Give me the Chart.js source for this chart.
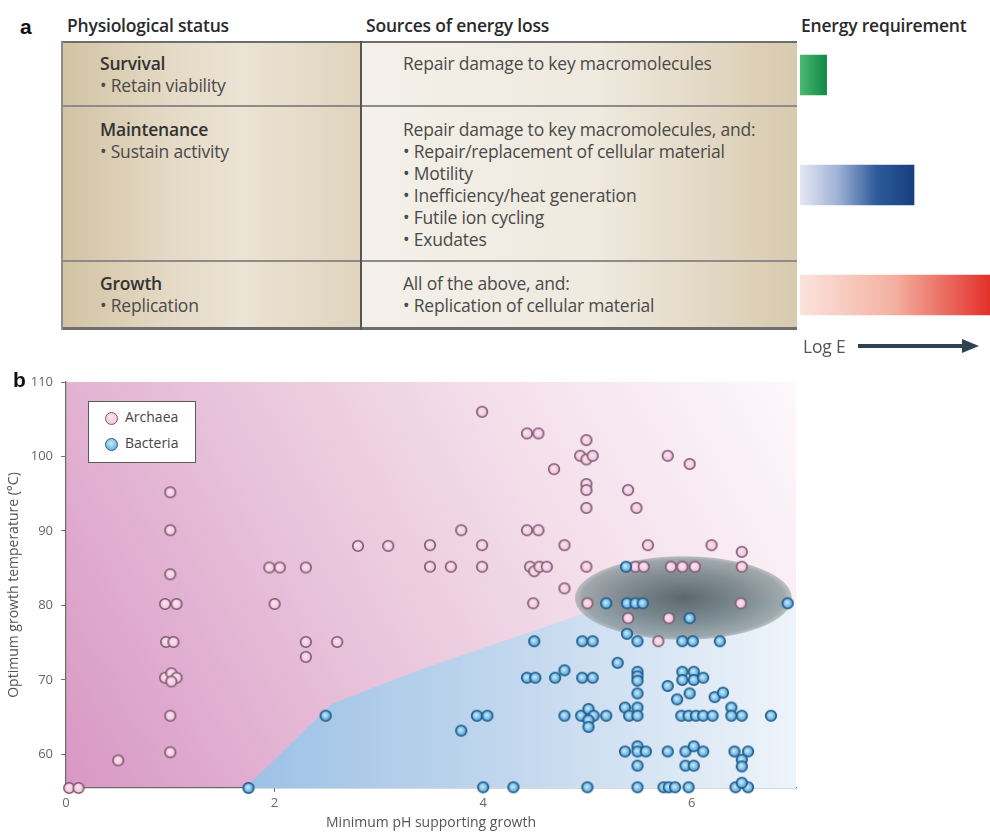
<!DOCTYPE html>
<html>
<head>
<meta charset="utf-8">
<title>Energy requirement and growth limits</title>
<script src="https://cdn.jsdelivr.net/npm/chart.js@4.4.1/dist/chart.umd.min.js"></script>
<style>
  body { margin: 0; background: #fff; font-family: 'Open Sans', sans-serif; }
  #page { position: relative; width: 990px; height: 835px; overflow: hidden; }
  .abs { position: absolute; white-space: nowrap; }
  .panel { font-family: Arial, 'Liberation Sans', sans-serif; font-weight: bold; font-size: 21px; line-height: 20px; color: #111; }
  .head { font-size: 17.5px; font-weight: 600; line-height: 22px; color: #2a2a2a; letter-spacing: -0.2px; }
  .txt { font-size: 17.5px; line-height: 22px; color: #4a4a4a; letter-spacing: -0.2px; }
  .txt b { font-weight: 600; color: #333; }
  .cellL { background: linear-gradient(90deg, #d2c3a3 0%, #e4d9c4 35%, #ebe3d4 60%, #e0d4bc 100%); }
  .cellR { background: linear-gradient(90deg, #f4f1ea 0%, #efe9de 55%, #d8caae 100%); }
  .line { position: absolute; }
  .legend { position: absolute; left: 88px; top: 401px; width: 108px; height: 62px; box-sizing: border-box;
            border: 1.5px solid #5a5a5a; background: #fff; }
  .dot { position: absolute; width: 11px; height: 11px; border-radius: 50%; }
  .ltxt { position: absolute; font-size: 14px; line-height: 20px; color: #444; }
</style>
</head>
<body>
<div id="page">
  <!-- panel a : table -->
  <div class="abs panel" style="left:20px; top:17px;">a</div>
  <div class="abs head" style="left:67px; top:14px;">Physiological status</div>
  <div class="abs head" style="left:366px; top:14px;">Sources of energy loss</div>
  <div class="abs head" style="left:801px; top:14px;">Energy requirement</div>

  <div class="abs cellL" style="left:62px; top:42px; width:299px; height:64px;"></div>
  <div class="abs cellR" style="left:361px; top:42px; width:436px; height:64px;"></div>
  <div class="abs cellL" style="left:62px; top:106px; width:299px; height:155px;"></div>
  <div class="abs cellR" style="left:361px; top:106px; width:436px; height:155px;"></div>
  <div class="abs cellL" style="left:62px; top:261px; width:299px; height:67px;"></div>
  <div class="abs cellR" style="left:361px; top:261px; width:436px; height:67px;"></div>

  <div class="line" style="left:62px; top:41px; width:735px; height:2px; background:#6e6e6e;"></div>
  <div class="line" style="left:62px; top:105px; width:735px; height:2px; background:#8c8c8c;"></div>
  <div class="line" style="left:62px; top:260px; width:735px; height:2px; background:#8c8c8c;"></div>
  <div class="line" style="left:62px; top:327px; width:735px; height:3px; background:#6e6e6e;"></div>
  <div class="line" style="left:61px; top:41px; width:2px; height:289px; background:#8c8c8c;"></div>
  <div class="line" style="left:360px; top:41px; width:2px; height:289px; background:#555;"></div>

  <div class="abs txt" style="left:100px; top:52px;"><b>Survival</b><br>• Retain viability</div>
  <div class="abs txt" style="left:100px; top:118px;"><b>Maintenance</b><br>• Sustain activity</div>
  <div class="abs txt" style="left:100px; top:272px;"><b>Growth</b><br>• Replication</div>

  <div class="abs txt" style="left:403px; top:52px;">Repair damage to key macromolecules</div>
  <div class="abs txt" style="left:403px; top:118px;">Repair damage to key macromolecules, and:<br>• Repair/replacement of cellular material<br>• Motility<br>• Inefficiency/heat generation<br>• Futile ion cycling<br>• Exudates</div>
  <div class="abs txt" style="left:403px; top:272px;">All of the above, and:<br>• Replication of cellular material</div>

  <canvas id="energy" class="abs" width="200" height="330" style="left:790px; top:20px;"></canvas>

  <div class="abs txt" style="left:803px; top:335px; color:#555;">Log E</div>
  <svg class="abs" style="left:856px; top:338px;" width="126" height="16">
    <line x1="2" y1="8" x2="112" y2="8" stroke="#2e4352" stroke-width="4"/>
    <polygon points="106,1 123,8 106,15" fill="#2e4352"/>
  </svg>

  <!-- panel b : scatter -->
  <canvas id="scatter" class="abs" width="990" height="475" style="left:0; top:360px;"></canvas>
  <div class="abs panel" style="left:13px; top:370px;">b</div>

  <div class="legend">
    <div class="dot" style="left:16px; top:10px; background:radial-gradient(circle at 45% 40%, #fbe3ef, #eebcd7); border:1.5px solid #7b5870;"></div>
    <div class="ltxt" style="left:36px; top:5px;">Archaea</div>
    <div class="dot" style="left:16px; top:36px; background:radial-gradient(circle at 45% 40%, #c9ecfb, #4f9fd3); border:1.5px solid #1d5d8e;"></div>
    <div class="ltxt" style="left:36px; top:31px;">Bacteria</div>
  </div>
</div>

<script>
// panel a - relative energy requirement (log scale, arbitrary units)
const statusLabels = ['Survival', 'Maintenance', 'Growth'];
const energyLevels = [0.14, 0.6, 1.0];
const energyColours = [
  ['#4cb874', '#0f8a45'],
  ['#e4e8f3', '#9fb1d6', '#2f5b9b', '#163f80'],
  ['#fbe4dc', '#f3b0a0', '#e3302a']
];

// panel b - [minimum pH, optimum temperature]
const archaeaPoints = [
  [0.03, 55.5], [0.12, 55.5], [0.5, 59.2],
  [1.0, 60.3], [1.0, 65.2], [0.95, 70.3], [1.01, 70.9], [1.06, 70.3], [1.01, 69.8],
  [0.96, 75.1], [1.03, 75.1], [0.95, 80.2], [1.06, 80.2], [1.0, 84.2], [1.0, 90.1], [1.0, 95.2],
  [1.95, 85.1], [2.05, 85.1], [2.3, 85.1], [2.0, 80.2], [2.3, 75.1], [2.3, 73.1], [2.6, 75.1],
  [2.8, 88.0], [3.09, 88.0],
  [3.49, 88.1], [3.49, 85.2], [3.69, 85.2], [3.79, 90.1], [3.99, 88.1], [3.99, 85.2], [3.99, 106.0],
  [4.42, 103.1], [4.53, 103.1], [4.42, 90.1], [4.53, 90.1], [4.45, 85.2], [4.49, 84.6], [4.54, 85.2], [4.61, 85.2], [4.48, 80.3],
  [4.68, 98.3], [4.78, 88.1], [4.78, 82.3],
  [4.99, 102.2], [4.93, 100.1], [4.99, 99.6], [5.05, 100.1], [4.99, 96.3], [4.99, 95.5], [4.99, 93.1], [4.99, 85.2], [5.0, 80.3],
  [5.39, 95.5], [5.47, 93.1], [5.58, 88.1], [5.46, 85.2], [5.54, 85.2], [5.39, 78.3],
  [5.77, 100.1], [5.98, 99.0], [5.80, 85.2], [5.91, 85.2], [6.03, 85.2], [5.78, 78.3], [5.68, 75.2],
  [6.19, 88.1], [6.48, 87.2], [6.48, 85.2], [6.47, 80.3]
];
const bacteriaPoints = [
  [1.75, 55.5], [2.49, 65.2], [3.79, 63.2], [3.94, 65.2], [4.04, 65.2],
  [4.0, 55.6], [4.29, 55.6], [5.0, 55.6], [5.48, 55.6], [5.73, 55.6], [5.78, 55.6], [5.84, 55.6], [5.97, 55.6],
  [6.42, 55.6], [6.54, 55.6], [6.48, 56.2],
  [4.42, 70.3], [4.50, 70.3], [4.69, 70.3], [4.78, 71.3], [4.95, 70.3], [5.05, 70.3],
  [4.49, 75.2], [4.95, 75.2], [5.05, 75.2],
  [4.78, 65.2], [4.94, 65.2], [5.01, 66.1], [5.06, 65.2], [5.01, 64.6], [5.01, 63.7], [5.18, 65.2],
  [5.18, 80.3], [5.37, 85.2], [5.38, 80.3], [5.46, 80.3], [5.53, 80.3], [5.98, 78.3], [5.38, 76.2],
  [5.48, 75.2], [5.91, 75.2], [6.01, 75.2], [6.27, 75.2], [6.92, 80.3],
  [5.29, 72.3],
  [5.48, 71.1], [5.48, 70.5], [5.48, 69.9], [5.48, 68.2], [5.77, 69.2],
  [5.91, 71.1], [6.02, 71.1], [5.91, 70.0], [6.02, 70.0], [6.11, 70.3], [5.98, 68.2], [5.86, 67.4], [6.22, 67.7], [6.30, 68.3],
  [5.36, 66.3], [5.48, 66.3], [5.40, 65.2], [5.48, 65.2],
  [5.90, 65.2], [5.97, 65.2], [6.04, 65.2], [6.11, 65.2], [6.20, 65.2],
  [6.38, 66.3], [6.38, 65.2], [6.48, 65.2], [6.76, 65.2],
  [5.36, 60.4], [5.48, 61.1], [5.48, 60.4], [5.56, 60.4], [5.48, 58.5], [5.77, 60.4],
  [5.94, 60.4], [6.02, 61.1], [6.11, 60.4], [5.94, 58.5], [6.02, 58.5],
  [6.41, 60.4], [6.54, 60.4], [6.48, 59.3], [6.48, 58.4]
];
// upper edge of the shaded "bacteria" zone
const bacteriaZone = [[1.72, 55.5], [2.55, 66.8], [3.4, 71.4], [4.94, 78.8], [7.0, 81.2]];
// grey ellipse (centre and radii in data units)
const ellipseCentre = [5.92, 81.0];
const ellipseRadii = [1.04, 5.6];

const xTicks = [0, 2, 4, 6];
const yTicks = [60, 70, 80, 90, 100, 110];

const FONT = 'Open Sans';

// ---------- energy bars ----------
function barGradient(ctx) {
  const stops = energyColours[ctx.dataIndex];
  const chart = ctx.chart;
  if (!chart.chartArea || !chart.scales.x) return stops[stops.length - 1];
  const xs = chart.scales.x;
  const g = chart.ctx.createLinearGradient(xs.getPixelForValue(0), 0, xs.getPixelForValue(ctx.raw), 0);
  stops.forEach((c, i) => g.addColorStop(i / (stops.length - 1), c));
  return g;
}

new Chart(document.getElementById('energy'), {
  type: 'bar',
  data: {
    labels: statusLabels,
    datasets: [{ data: energyLevels, barThickness: 40, borderWidth: 0, backgroundColor: barGradient }]
  },
  options: {
    indexAxis: 'y',
    responsive: false,
    animation: false,
    layout: { padding: { left: 10, right: 0, top: 0, bottom: 0 } },
    plugins: { legend: { display: false }, tooltip: { enabled: false } },
    scales: {
      x: { display: false, min: 0, max: 1 },
      y: { display: false }
    }
  }
});

// ---------- scatter ----------
function makeMarker(inner, outer, ring) {
  const c = document.createElement('canvas');
  c.width = 14; c.height = 14;
  const g = c.getContext('2d');
  const grad = g.createRadialGradient(6.2, 6.2, 0.5, 7, 7, 6);
  grad.addColorStop(0, inner);
  grad.addColorStop(1, outer);
  g.beginPath();
  g.arc(7, 7, 5.3, 0, Math.PI * 2);
  g.fillStyle = grad;
  g.fill();
  g.lineWidth = 1.6;
  g.strokeStyle = ring;
  g.stroke();
  return c;
}
const archaeaDot = makeMarker('#fbe3ef', '#eebcd7', '#7b5870');
const bacteriaDot = makeMarker('#c4eafb', '#3f93cc', '#1b5888');

const backdrop = {
  id: 'backdrop',
  beforeDraw(chart) {
    const { ctx, chartArea: a } = chart;
    const g = ctx.createLinearGradient(a.left, a.bottom, a.right, a.top);
    g.addColorStop(0, '#d898c4');
    g.addColorStop(0.35, '#e7bfd9');
    g.addColorStop(0.65, '#f3dde9');
    g.addColorStop(1, '#fdf8fb');
    ctx.save();
    ctx.fillStyle = g;
    ctx.fillRect(a.left, a.top, a.width, a.height);
    ctx.restore();
  },
  afterDatasetDraw(chart, args) {
    if (args.index !== 0) return;
    const { ctx } = chart;
    const xs = chart.scales.x, ys = chart.scales.y;
    const cx = xs.getPixelForValue(ellipseCentre[0]);
    const cy = ys.getPixelForValue(ellipseCentre[1]);
    const rx = xs.getPixelForValue(ellipseCentre[0] + ellipseRadii[0]) - cx;
    const ry = cy - ys.getPixelForValue(ellipseCentre[1] + ellipseRadii[1]);
    ctx.save();
    ctx.translate(cx, cy);
    ctx.scale(rx, ry);
    const g = ctx.createRadialGradient(0, 0, 0, 0, 0, 1);
    g.addColorStop(0, 'rgba(78,94,100,0.93)');
    g.addColorStop(0.6, 'rgba(112,127,133,0.86)');
    g.addColorStop(0.93, 'rgba(138,151,156,0.8)');
    g.addColorStop(1, 'rgba(150,162,166,0.6)');
    ctx.beginPath();
    ctx.arc(0, 0, 1, 0, Math.PI * 2);
    ctx.fillStyle = g;
    ctx.fill();
    ctx.restore();
  }
};

function zoneGradient(ctx) {
  const chart = ctx.chart;
  const a = chart.chartArea;
  if (!a) return '#c6daef';
  const xs = chart.scales.x;
  const g = chart.ctx.createLinearGradient(xs.getPixelForValue(bacteriaZone[0][0]), 0, a.right, 0);
  g.addColorStop(0, '#9cc1e5');
  g.addColorStop(0.5, '#c3d8ee');
  g.addColorStop(1, '#eef4fa');
  return g;
}

const toXY = (p) => ({ x: p[0], y: p[1] });

new Chart(document.getElementById('scatter'), {
  type: 'scatter',
  data: {
    datasets: [
      {
        type: 'line',
        label: 'zone',
        data: bacteriaZone.map(toXY),
        fill: 'start',
        backgroundColor: zoneGradient,
        borderColor: 'rgba(0,0,0,0)',
        borderWidth: 0,
        pointRadius: 0,
        tension: 0,
        order: 10
      },
      {
        label: 'Archaea',
        data: archaeaPoints.map(toXY),
        pointStyle: archaeaDot,
        pointRadius: 6,
        clip: { left: 10, top: 10, right: 0, bottom: 10 },
        order: 2
      },
      {
        label: 'Bacteria',
        data: bacteriaPoints.map(toXY),
        pointStyle: bacteriaDot,
        pointRadius: 6,
        clip: { left: 10, top: 10, right: 0, bottom: 10 },
        order: 1
      }
    ]
  },
  options: {
    responsive: false,
    animation: false,
    layout: { padding: { left: 0, top: 22, right: 194, bottom: 0 } },
    plugins: { legend: { display: false }, tooltip: { enabled: false } },
    scales: {
      x: {
        type: 'linear',
        min: 0,
        max: 7,
        afterBuildTicks: (s) => { s.ticks = xTicks.map((v) => ({ value: v })); },
        afterFit: (s) => { s.height = 47; },
        grid: { drawOnChartArea: false, drawTicks: true, tickLength: 4, color: '#777' },
        border: { display: true, color: '#6a6a6a', width: 1.2 },
        ticks: { color: '#666', font: { family: FONT, size: 13 }, padding: 3, maxRotation: 0 },
        title: {
          display: true,
          text: 'Minimum pH supporting growth',
          color: '#555',
          font: { family: FONT, size: 14 },
          padding: { top: 2, bottom: 4 }
        }
      },
      y: {
        type: 'linear',
        min: 55.5,
        max: 110,
        afterBuildTicks: (s) => { s.ticks = yTicks.map((v) => ({ value: v })); },
        afterFit: (s) => { s.width = 66; },
        grid: { drawOnChartArea: false, drawTicks: true, tickLength: 5, color: '#777' },
        border: { display: true, color: '#6a6a6a', width: 1.2 },
        ticks: { color: '#666', font: { family: FONT, size: 13 }, padding: 8 },
        title: {
          display: true,
          text: 'Optimum growth temperature (°C)',
          color: '#555',
          font: { family: FONT, size: 14 },
          padding: { top: 6, bottom: 2 }
        }
      }
    }
  },
  plugins: [backdrop]
});
</script>
</body>
</html>
